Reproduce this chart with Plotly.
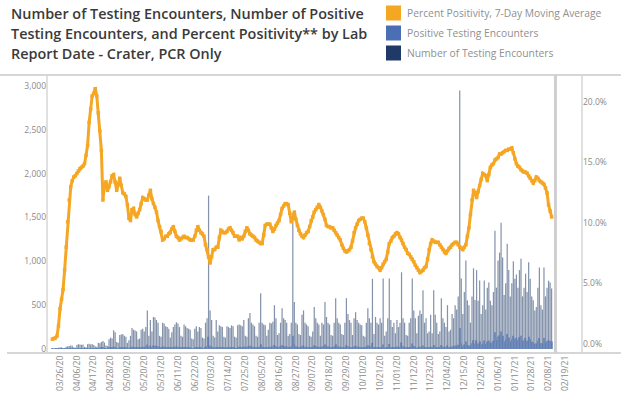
import plotly.graph_objects as go
import pandas as pd

# ---------------- data (daily, starting 2020-03-21) ----------------
start_date = "2020-03-21"

tests = [
    5, 3, 10, 12, 15, 18, 20,
    10, 8, 25, 30, 35, 40, 38,
    20, 15, 45, 55, 50, 48, 52,
    25, 20, 55, 60, 50, 58, 45,
    30, 25, 70, 65, 80, 90, 75,
    40, 35, 110, 130, 120, 215, 190,
    80, 70, 160, 165, 170, 150, 140,
    70, 100, 150, 240, 220, 210, 200,
    110, 120, 220, 230, 200, 250, 440,
    150, 330, 200, 365, 360, 330, 300,
    150, 140, 300, 290, 260, 250, 230,
    130, 190, 250, 280, 305, 290, 250,
    150, 140, 280, 260, 240, 230, 220,
    120, 110, 230, 260, 200, 250, 240,
    130, 120, 300, 350, 1750, 440, 330,
    150, 130, 330, 200, 270, 260, 250,
    140, 130, 260, 250, 240, 270, 260,
    140, 130, 270, 280, 270, 260, 330,
    150, 140, 350, 410, 300, 280, 260,
    150, 140, 300, 635, 300, 280, 270,
    150, 220, 300, 290, 310, 500, 350,
    160, 180, 300, 465, 350, 330, 300,
    150, 170, 300, 1550, 535, 300, 280,
    170, 160, 390, 440, 300, 280, 260,
    150, 140, 200, 480, 350, 300, 280,
    150, 300, 280, 535, 365, 300, 280,
    160, 150, 300, 580, 350, 300, 280,
    170, 160, 300, 580, 400, 330, 300,
    160, 350, 420, 330, 300, 280, 270,
    150, 140, 300, 465, 350, 300, 800,
    170, 365, 300, 280, 350, 300, 805,
    150, 200, 350, 805, 330, 250, 300,
    180, 330, 250, 300, 875, 350, 300,
    160, 150, 300, 350, 805, 440, 350,
    180, 380, 440, 400, 670, 300, 350,
    180, 200, 390, 180, 670, 390, 300,
    170, 200, 580, 350, 300, 250, 500,
    200, 220, 400, 350, 500, 450, 600,
    2950, 805, 400, 650, 1010, 555, 500,
    300, 600, 920, 560, 900, 550, 780,
    400, 500, 780, 450, 700, 760, 550,
    500, 650, 1350, 700, 1010, 1100, 1440,
    1045, 615, 750, 1200, 900, 600, 750,
    1000, 800, 850, 700, 900, 1030, 600,
    700, 860, 650, 990, 800, 600, 555,
    440, 480, 700, 930, 500, 450, 930,
    600, 700, 780, 760, 690,
]

positives = [
    1, 1, 2, 2, 3, 3, 4,
    2, 2, 5, 6, 7, 8, 8,
    4, 3, 9, 10, 9, 9, 10,
    5, 4, 10, 11, 9, 10, 8,
    5, 4, 11, 10, 12, 13, 11,
    6, 5, 15, 17, 16, 27, 24,
    10, 9, 20, 21, 22, 19, 18,
    8, 11, 17, 26, 24, 23, 22,
    12, 13, 24, 26, 22, 28, 48,
    17, 36, 22, 40, 38, 35, 32,
    15, 14, 28, 27, 24, 23, 21,
    12, 17, 23, 26, 28, 27, 23,
    13, 12, 24, 23, 21, 20, 19,
    10, 10, 20, 23, 18, 22, 21,
    11, 10, 26, 30, 140, 36, 27,
    12, 10, 27, 16, 22, 21, 20,
    12, 11, 23, 22, 21, 24, 23,
    12, 11, 24, 25, 24, 23, 29,
    13, 12, 31, 36, 27, 25, 23,
    13, 12, 26, 55, 26, 24, 23,
    13, 19, 27, 26, 28, 45, 32,
    15, 17, 29, 45, 34, 32, 29,
    15, 17, 29, 150, 52, 29, 27,
    15, 14, 35, 39, 27, 25, 23,
    13, 12, 18, 43, 31, 27, 25,
    14, 28, 26, 50, 34, 28, 26,
    15, 14, 28, 53, 32, 27, 25,
    13, 12, 22, 43, 30, 25, 23,
    13, 28, 35, 28, 26, 24, 23,
    14, 13, 28, 44, 33, 28, 70,
    12, 24, 19, 18, 22, 19, 50,
    10, 14, 24, 57, 24, 18, 22,
    15, 28, 21, 26, 75, 30, 26,
    13, 12, 23, 27, 62, 33, 26,
    11, 23, 27, 24, 41, 18, 21,
    12, 14, 27, 13, 47, 27, 21,
    14, 17, 47, 28, 24, 20, 40,
    16, 18, 32, 28, 41, 37, 49,
    240, 65, 32, 52, 85, 46, 42,
    30, 65, 100, 62, 100, 62, 88,
    50, 62, 97, 56, 87, 95, 68,
    70, 92, 190, 100, 140, 155, 200,
    150, 88, 108, 170, 130, 86, 108,
    150, 120, 127, 105, 135, 150, 88,
    100, 125, 94, 140, 112, 84, 78,
    58, 65, 94, 125, 68, 60, 125,
    75, 88, 97, 95, 85,
]

pct_positivity = [
    0.4, 0.45, 0.5, 0.65, 1.5, 2.9, 3.7,
    4.5, 6.1, 8.0, 10.1, 11.9, 13.0, 13.5,
    13.8, 13.9, 14.1, 14.3, 14.5, 14.6, 14.7,
    14.9, 15.6, 16.4, 18.3, 19.4, 20.5, 20.7,
    21.1, 20.5, 19.1, 17.6, 16.0, 11.9, 13.1,
    13.4, 12.7, 13.0, 13.4, 13.9, 14.0, 13.4,
    12.7, 13.2, 13.7, 13.1, 12.5, 12.4, 12.2,
    11.5, 10.4, 10.2, 11.1, 11.2, 10.7, 10.5,
    10.8, 11.1, 11.6, 12.1, 12.0, 11.9, 11.9,
    12.3, 12.7, 12.0, 11.6, 11.3, 10.9, 10.2,
    9.7, 9.3, 8.6, 8.7, 8.9, 8.9, 9.1,
    9.2, 9.5, 9.7, 9.3, 8.9, 8.8, 8.6,
    8.7, 8.8, 8.9, 8.8, 8.8, 8.7, 8.6,
    8.6, 8.6, 8.9, 9.4, 9.7, 9.4, 9.2,
    9.1, 8.9, 8.2, 7.8, 7.2, 6.7, 7.2,
    7.8, 7.8, 8.0, 8.0, 8.8, 9.4, 9.3,
    9.2, 9.2, 9.3, 9.5, 9.6, 9.4, 9.2,
    8.9, 8.9, 8.9, 8.6, 8.8, 8.7, 8.9,
    9.3, 9.6, 9.4, 9.1, 9.0, 8.9, 8.8,
    8.6, 8.5, 8.4, 8.3, 8.3, 9.0, 9.8,
    9.9, 9.9, 9.9, 9.6, 9.3, 9.5, 9.8,
    10.0, 10.2, 10.7, 11.2, 11.4, 11.6, 11.6,
    11.5, 10.8, 10.1, 10.4, 10.9, 10.3, 9.8,
    9.4, 9.1, 8.9, 8.8, 9.0, 9.2, 9.3,
    9.7, 10.2, 10.5, 10.9, 11.1, 11.3, 11.5,
    11.3, 11.0, 10.7, 10.3, 9.8, 9.7, 9.7,
    9.6, 9.6, 9.4, 9.2, 9.0, 8.8, 8.6,
    8.2, 7.9, 7.7, 7.6, 7.7, 7.8, 8.0,
    8.5, 9.2, 9.6, 9.9, 10.2, 10.3, 10.4,
    10.4, 10.1, 9.6, 9.0, 8.3, 7.8, 7.2,
    6.8, 6.6, 6.4, 6.3, 6.1, 6.3, 6.6,
    6.8, 7.0, 7.6, 8.3, 8.5, 8.8, 8.9,
    9.1, 9.2, 9.1, 8.8, 8.6, 8.3, 8.0,
    7.8, 7.5, 7.4, 7.2, 7.0, 6.8, 6.5,
    6.3, 6.1, 5.9, 6.0, 6.1, 6.3, 6.4,
    7.0, 7.8, 8.3, 8.6, 8.5, 8.4, 8.4,
    8.4, 8.2, 8.0, 7.8, 7.6, 7.5, 7.7,
    7.9, 8.0, 8.2, 8.3, 8.4, 8.4, 8.2,
    8.0, 7.9, 7.8, 8.0, 8.2, 8.9, 9.6,
    10.7, 11.9, 12.7, 12.5, 12.1, 12.6, 13.1,
    13.6, 14.1, 14.0, 13.9, 13.5, 14.0, 14.6,
    14.8, 14.9, 15.2, 15.3, 15.4, 15.7, 15.7,
    15.8, 15.9, 16.0, 16.0, 16.1, 16.1, 16.2,
    15.8, 15.3, 14.9, 14.7, 14.6, 14.4, 14.3,
    14.2, 14.2, 14.1, 13.9, 13.7, 13.5, 13.3,
    13.5, 13.8, 13.7, 13.5, 13.4, 13.3, 13.2,
    12.9, 12.5, 11.5, 11.0, 10.5,
]

title_lines = [
    "Number of Testing Encounters, Number of Positive",
    "Testing Encounters, and Percent Positivity** by Lab",
    "Report Date - Crater, PCR Only",
]
legend_labels = [
    "Percent Positivity, 7-Day Moving Average",
    "Positive Testing Encounters",
    "Number of Testing Encounters",
]
reference_date = "2021-02-12 12:00"

# ---------------- styling ----------------
ORANGE = "#F5A623"
BLUE = "#4A6FB5"
NAVY = "#1F3A66"
GRID = "#D6D6D6"
TICK = "#8A8A8A"
FONT = "Open Sans"

dates = pd.date_range(start_date, periods=len(tests), freq="D")

fig = go.Figure()
fig.add_trace(go.Bar(x=dates, y=tests, name=legend_labels[2],
                     marker=dict(color="rgba(31,58,102,0.55)", line=dict(width=0)), yaxis="y"))
fig.add_trace(go.Bar(x=dates, y=positives, name=legend_labels[1],
                     marker=dict(color=BLUE, line=dict(width=0)), opacity=0.6, yaxis="y"))
fig.add_trace(go.Scatter(x=dates, y=[p / 100 for p in pct_positivity], name=legend_labels[0],
                         mode="lines+markers",
                         line=dict(color=ORANGE, width=3),
                         marker=dict(color=ORANGE, size=3.5, symbol="square"),
                         yaxis="y2"))

W, H = 621, 406
# plot area in window pixels: x 47..582, y 75..353
L, R, T, B = 47, W - 582, 75, H - 353

fig.update_layout(
    width=W, height=H,
    margin=dict(l=L, r=R, t=T, b=B, autoexpand=False),
    paper_bgcolor="white", plot_bgcolor="white",
    showlegend=False,
    barmode="overlay", bargap=0.2,
    font=dict(family=FONT, color=TICK, size=9),
    xaxis=dict(
        type="date",
        range=["2020-03-17 12:00", "2021-03-01 20:00"],
        tick0="2020-03-26", dtick=11 * 86400000,
        tickformat="%m/%d/%y", tickangle=-90,
        showgrid=False, zeroline=False, showline=False, automargin=False,
        ticks="", tickfont=dict(size=8.5, color=TICK, family=FONT),
    ),
    yaxis=dict(
        range=[-45.6, 3125.5],
        tickvals=[0, 500, 1000, 1500, 2000, 2500, 3000],
        tickformat=",d", automargin=False,
        showgrid=False, zeroline=False, showline=False,
        ticks="", tickfont=dict(size=8.5, color=TICK, family=FONT),
    ),
    yaxis2=dict(
        overlaying="y", side="right",
        range=[-0.00744, 0.2223],
        tickvals=[0, 0.05, 0.10, 0.15, 0.20],
        tickformat=".1%", automargin=False,
        showgrid=False, zeroline=False, showline=False,
        ticks="", tickfont=dict(size=8.5, color=TICK, family=FONT),
    ),
)

# helpers: window pixel -> paper coordinate
pw, ph = W - L - R, H - T - B
def px_x(x):
    return (x - L) / pw
def px_y(y):
    return 1 - (y - T) / ph

shapes = [
    dict(type="line", xref="paper", yref="paper", x0=px_x(0), x1=px_x(W), y0=1, y1=1,
         line=dict(color=GRID, width=2)),
    dict(type="line", xref="paper", yref="paper", x0=px_x(7), x1=px_x(W), y0=0, y1=0,
         line=dict(color=GRID, width=2)),
    dict(type="line", xref="paper", yref="paper", x0=0, x1=0, y0=0, y1=1,
         line=dict(color=GRID, width=1.5)),
    dict(type="line", xref="paper", yref="paper", x0=1, x1=1, y0=0, y1=1,
         line=dict(color=GRID, width=1.5)),
    dict(type="line", xref="x", yref="paper", x0=reference_date, x1=reference_date, y0=0, y1=1,
         line=dict(color="#CFCFCF", width=3), layer="above"),
]

# manual legend
legend_colors = [ORANGE, BLUE, NAVY]
legend_y = [13, 33, 53]
annotations = []
for lbl, col, yc in zip(legend_labels, legend_colors, legend_y):
    shapes.append(dict(type="rect", xref="paper", yref="paper",
                       x0=px_x(386), x1=px_x(401), y0=px_y(yc + 7.5), y1=px_y(yc - 7.5),
                       fillcolor=col, line=dict(width=0)))
    annotations.append(dict(xref="paper", yref="paper", x=px_x(405), y=px_y(yc),
                            xanchor="left", yanchor="middle", showarrow=False,
                            text=lbl, font=dict(family=FONT, size=10.3, color="#909090")))

for line, yc in zip(title_lines, [13, 33, 53]):
    annotations.append(dict(xref="paper", yref="paper", x=px_x(9), y=px_y(yc),
                            xanchor="left", yanchor="middle", showarrow=False,
                            text=line,
                            font=dict(family=FONT, size=14.4, color="#3A3A3A", weight=600)))

fig.update_layout(shapes=shapes, annotations=annotations)
# remove the default 8px page margin so the figure fills the window exactly
fig.write_html("out.html", config={"displayModeBar": False},
               post_script="document.body.style.margin='0px';")
